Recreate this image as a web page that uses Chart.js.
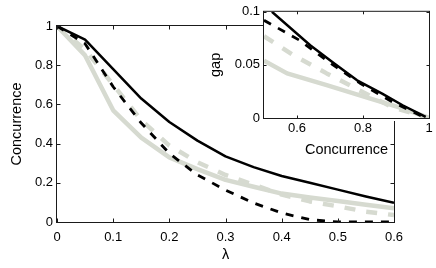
<!DOCTYPE html>
<html><head><meta charset="utf-8">
<script src="https://cdn.jsdelivr.net/npm/chart.js@4"></script>
<style>
html,body{margin:0;padding:0;background:#fff;overflow:hidden}
#wrap{position:relative;width:436px;height:268px}
#main{position:absolute;left:0;top:0}
#inset{position:absolute;left:200px;top:0}
</style></head><body>
<div id="wrap"><canvas id="main" width="436" height="268"></canvas><canvas id="inset" width="236" height="165"></canvas></div>
<script>
// ---- main plot data ----
const lambda      = [0, 0.05, 0.1, 0.15, 0.2, 0.25, 0.3, 0.35, 0.4, 0.45, 0.5, 0.55, 0.6];
const blackSolid  = [1, 0.93, 0.78, 0.63, 0.51, 0.415, 0.335, 0.28, 0.235, 0.2, 0.165, 0.13, 0.098];
const blackDashed = [1, 0.91, 0.69, 0.505, 0.35, 0.24, 0.163, 0.097, 0.046, 0.012, 0, 0, 0];
const grayDashed  = [1, 0.88, 0.7, 0.52, 0.39, 0.305, 0.24, 0.19, 0.14, 0.105, 0.08, 0.053, 0.035];
const graySolid   = [1, 0.85, 0.57, 0.43, 0.33, 0.27, 0.215, 0.18, 0.145, 0.125, 0.107, 0.088, 0.07];
const mainXTicks  = [0, 0.1, 0.2, 0.3, 0.4, 0.5, 0.6];
const mainXLabels = ['0', '0.1', '0.2', '0.3', '0.4', '0.5', '0.6'];
const mainYTicks  = [0, 0.2, 0.4, 0.6, 0.8, 1];
const mainYLabels = ['0', '0.2', '0.4', '0.6', '0.8', '1'];
const mainXTitle = 'λ';
const mainYTitle = 'Concurrence';

// ---- inset data (gap vs concurrence) ----
const insBlackSolidX  = [0.524, 0.64, 0.71, 0.782, 0.858, 0.92, 0.99];
const insBlackSolidY  = [0.1, 0.0685, 0.052, 0.0355, 0.023, 0.012, 0.001];
const insBlackDashedX = [0.5, 0.609, 0.7, 0.79, 0.89, 0.99];
const insBlackDashedY = [0.092, 0.073, 0.052, 0.033, 0.015, 0.0];
const insGrayDashedX  = [0.5, 0.59, 0.69, 0.79, 0.89, 1.0];
const insGrayDashedY  = [0.077, 0.059, 0.042, 0.026, 0.01, 0];
const insGraySolidX   = [0.5, 0.57, 0.69, 0.82, 0.92, 1.0];
const insGraySolidY   = [0.054, 0.042, 0.031, 0.0185, 0.009, 0];
const insXTicks  = [0.6, 0.8, 1];
const insXLabels = ['0.6', '0.8', '1'];
const insYTicks  = [0, 0.05, 0.1];
const insYLabels = ['0', '0.05', '0.1'];
const insXTitle = 'Concurrence';
const insYTitle = 'gap';

const GRAY = '#d6dad0';
const FONT = "'Liberation Sans', Arial, sans-serif";
Chart.defaults.font.family = FONT;
Chart.defaults.color = '#000';

function pts(xs, ys) { return xs.map((x, i) => ({x: x, y: ys[i]})); }

function framePlugin(tickLen, xt, yt, fillWhite) {
  return {
    id: 'frame',
    beforeDraw(chart) {
      if (!fillWhite) return;
      const a = chart.chartArea, c = chart.ctx;
      c.save(); c.fillStyle = '#fff';
      c.fillRect(a.left - 1, a.top - 1, a.right - a.left + 2, a.bottom - a.top + 4);
      c.restore();
    },
    afterDatasetsDraw(chart) {
      const a = chart.chartArea, c = chart.ctx;
      const sx = chart.scales.x, sy = chart.scales.y;
      const L = a.left - 0.5, R = Math.round(a.right) + 0.5, T = a.top - 0.5, B = Math.round(a.bottom) + 0.5;
      c.save();
      c.strokeStyle = '#1a1a1a'; c.lineWidth = 1;
      c.strokeRect(L, T, R - L, B - T);
      c.beginPath();
      xt.forEach(v => {
        const px = Math.round(sx.getPixelForValue(v)) + 0.5;
        c.moveTo(px, B); c.lineTo(px, B - tickLen);
        c.moveTo(px, T); c.lineTo(px, T + tickLen);
      });
      yt.forEach(v => {
        const py = Math.round(sy.getPixelForValue(v)) + 0.5;
        c.moveTo(L, py); c.lineTo(L + tickLen, py);
        c.moveTo(R, py); c.lineTo(R - tickLen, py);
      });
      c.stroke();
      c.restore();
    }
  };
}

function ds(data, color, width, dash) {
  return {data: data, borderColor: color, borderWidth: width, borderDash: dash,
    pointRadius: 0, tension: 0, fill: false, borderCapStyle: 'butt', borderJoinStyle: 'round'};
}

function axis(min, max, tv, tl, title, fitFn, pad) {
  return {
    type: 'linear', min: min, max: max,
    afterBuildTicks: s => { s.ticks = tv.map(v => ({value: v})); },
    ticks: {callback: v => tl[tv.indexOf(v)], font: {size: 13, family: FONT}, color: '#000',
      padding: pad, maxRotation: 0, autoSkip: false},
    grid: {display: false, drawTicks: false},
    border: {display: false},
    title: {display: true, text: title, font: {size: 14.5, family: FONT}, color: '#000', padding: 0},
    afterFit: fitFn
  };
}

const common = {
  responsive: false, devicePixelRatio: 1, animation: false,
  plugins: {legend: {display: false}, tooltip: {enabled: false}},
};

new Chart(document.getElementById('main'), {
  type: 'line',
  data: {datasets: [
    ds(pts(lambda, blackSolid), '#000', 2.5, []),
    ds(pts(lambda, blackDashed), '#000', 2.8, [8, 8]),
    ds(pts(lambda, grayDashed), GRAY, 4.5, [11, 11]),
    ds(pts(lambda, graySolid), GRAY, 4.5, []),
  ]},
  options: Object.assign({}, common, {
    layout: {padding: {left: 8, top: 26, right: 42, bottom: 4}},
    scales: {
      x: axis(0, 0.6, mainXTicks, mainXLabels, mainXTitle, s => { s.height = 42; }, 8),
      y: axis(0, 1, mainYTicks, mainYLabels, mainYTitle, s => { s.width = 49; }, 4),
    }
  }),
  plugins: [framePlugin(4, mainXTicks, mainYTicks, false)]
});

new Chart(document.getElementById('inset'), {
  type: 'line',
  data: {datasets: [
    ds(pts(insBlackSolidX, insBlackSolidY), '#000', 2.5, []),
    ds(pts(insBlackDashedX, insBlackDashedY), '#000', 2.8, [8, 8]),
    ds(pts(insGrayDashedX, insGrayDashedY), GRAY, 4.5, [11, 11]),
    ds(pts(insGraySolidX, insGraySolidY), GRAY, 4.5, []),
  ]},
  options: Object.assign({}, common, {
    layout: {padding: {left: 7, top: 11, right: 7, bottom: 6}},
    scales: {
      x: axis(0.5, 1, insXTicks, insXLabels, insXTitle, s => { s.height = 41; }, 3),
      y: axis(0, 0.1, insYTicks, insYLabels, insYTitle, s => { s.width = 57; }, 4),
    }
  }),
  plugins: [framePlugin(3, insXTicks, insYTicks, true)]
});
</script>
</body></html>
